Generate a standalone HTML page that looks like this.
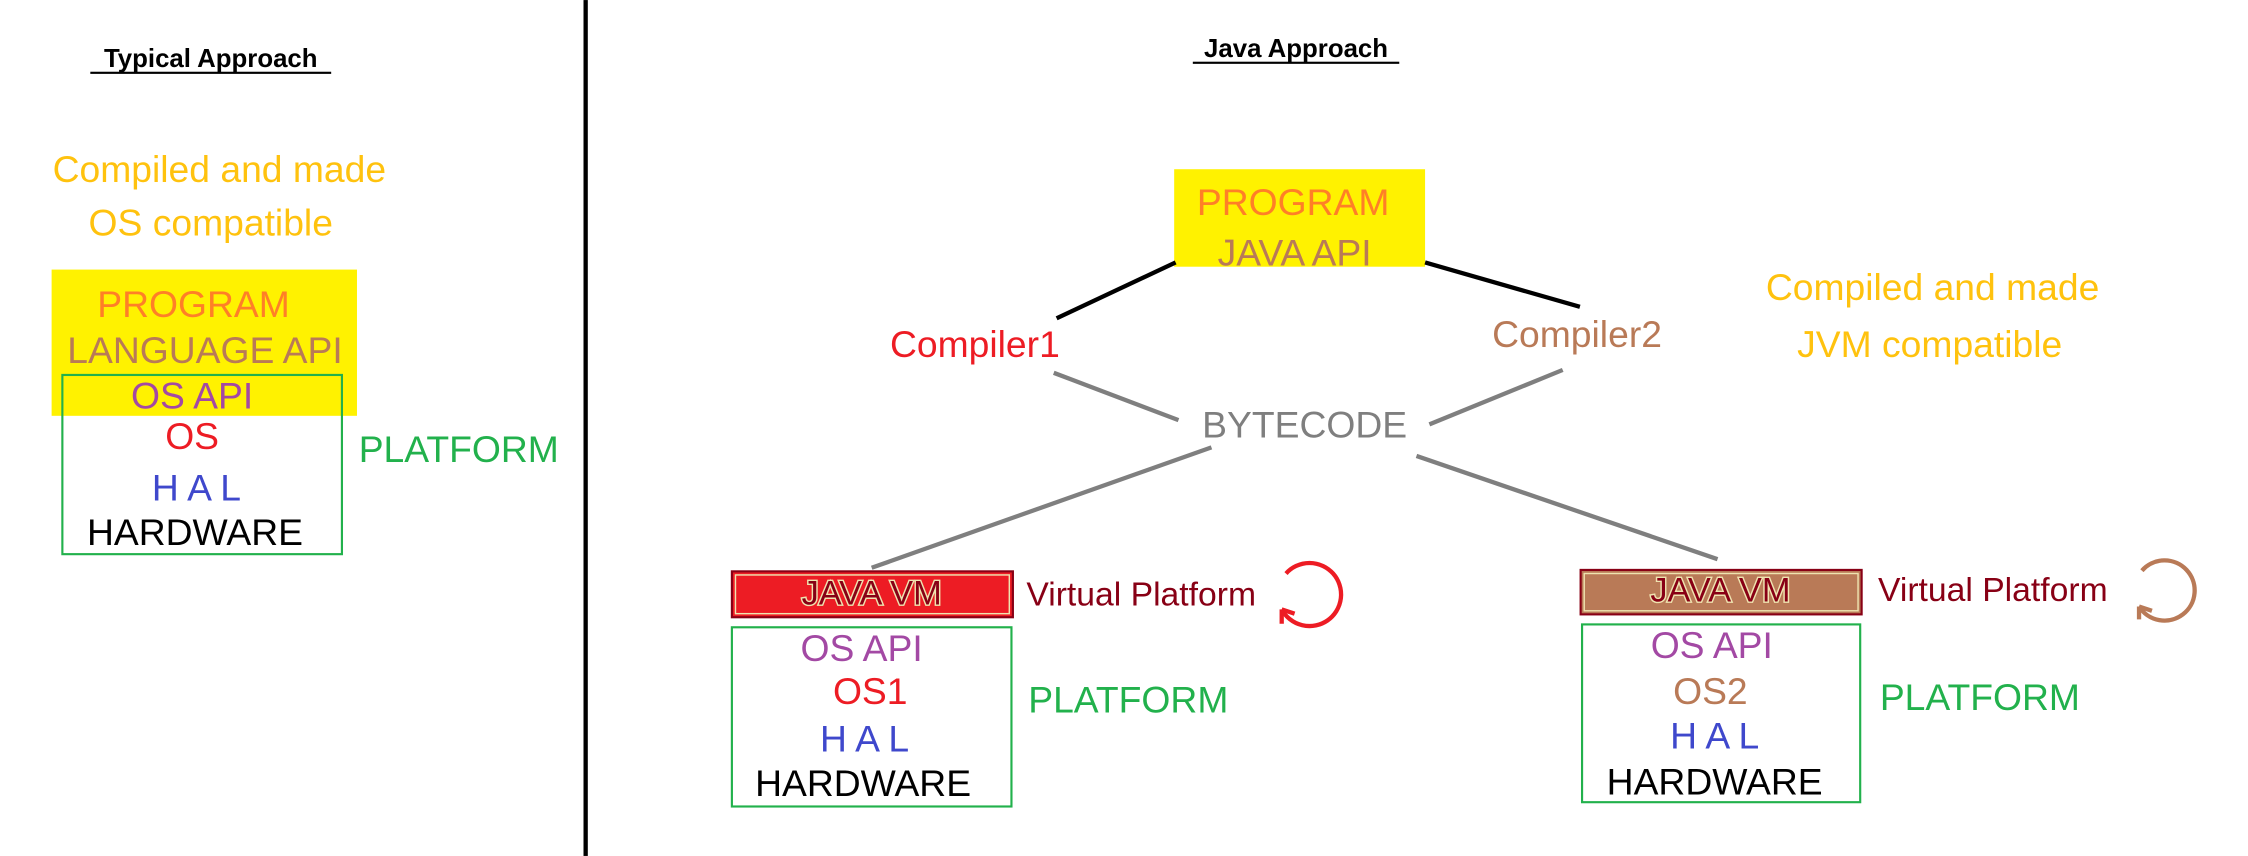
<!DOCTYPE html>
<html><head><meta charset="utf-8"><style>
html,body{margin:0;padding:0;background:#fff;}
svg{display:block;}
text{font-family:"Liberation Sans",sans-serif;dominant-baseline:central;}
.b{font-size:26px;}
</style></head><body>
<svg width="2248" height="856" viewBox="0 0 1568 597" xmlns="http://www.w3.org/2000/svg">
<rect x="0" y="0" width="1568" height="597" fill="#fff"/>
<rect x="407" y="0" width="3" height="597" fill="#000"/>
<!-- Left -->
<text x="147" y="41" font-size="18" font-weight="bold" text-anchor="middle" fill="#000">Typical Approach</text>
<rect x="63" y="50" width="168" height="1.5" fill="#000"/>
<text class="b" x="153" y="118" text-anchor="middle" fill="#FFC20E">Compiled and made</text>
<text class="b" x="147" y="155" text-anchor="middle" fill="#FFC20E">OS compatible</text>
<rect x="36" y="188" width="213" height="102" fill="#FFF200"/>
<rect x="43.5" y="261.5" width="195" height="125" fill="none" stroke="#22B14C" stroke-width="1.5"/>
<text class="b" x="135" y="212" text-anchor="middle" fill="#FF7F27">PROGRAM</text>
<text class="b" x="143" y="244" text-anchor="middle" fill="#B97A57">LANGUAGE API</text>
<text class="b" x="134" y="276" text-anchor="middle" fill="#A349A4">OS API</text>
<text class="b" x="134" y="304" text-anchor="middle" fill="#ED1C24">OS</text>
<text class="b" x="137" y="340" text-anchor="middle" fill="#3F48CC">H A L</text>
<text class="b" x="136" y="371" text-anchor="middle" fill="#000">HARDWARE</text>
<text class="b" x="320" y="313" text-anchor="middle" fill="#22B14C">PLATFORM</text>
<!-- Right -->
<text x="904" y="34" font-size="18" font-weight="bold" text-anchor="middle" fill="#000">Java Approach</text>
<rect x="832" y="43" width="144" height="1.5" fill="#000"/>
<rect x="819" y="118" width="175" height="68" fill="#FFF200"/>
<text class="b" x="902" y="141" text-anchor="middle" fill="#FF7F27">PROGRAM</text>
<text class="b" x="903" y="176" text-anchor="middle" fill="#B97A57">JAVA API</text>
<line x1="820" y1="183" x2="737" y2="222" stroke="#000" stroke-width="3"/>
<line x1="994" y1="183" x2="1102" y2="214" stroke="#000" stroke-width="3"/>
<text class="b" x="680" y="240" text-anchor="middle" fill="#ED1C24">Compiler1</text>
<text class="b" x="1100" y="233" text-anchor="middle" fill="#B97A57">Compiler2</text>
<text class="b" x="1348" y="200" text-anchor="middle" fill="#FFC20E">Compiled and made</text>
<text class="b" x="1346" y="240" text-anchor="middle" fill="#FFC20E">JVM compatible</text>
<g stroke="#7F7F7F" stroke-width="3">
<line x1="735" y1="260" x2="822" y2="293"/>
<line x1="1090" y1="258" x2="997" y2="296"/>
<line x1="845" y1="312" x2="608" y2="396"/>
<line x1="988" y1="318" x2="1198" y2="390"/>
</g>
<text class="b" x="910" y="296" text-anchor="middle" fill="#7F7F7F">BYTECODE</text>
<!-- VM left -->
<rect x="510.5" y="398.5" width="196" height="32" fill="#ED1C24" stroke="#880015" stroke-width="1.5"/>
<rect x="513" y="401" width="191" height="27" fill="none" stroke="#EFE4B0" stroke-width="1"/>
<text x="608" y="414" font-size="24" text-anchor="middle" fill="#880015" stroke="#EFE4B0" stroke-width="2" paint-order="stroke">JAVA VM</text>
<text x="796" y="415" font-size="23.5" text-anchor="middle" fill="#880015">Virtual Platform</text>
<path d="M897,400 A22,22 0 1,1 894,425" fill="none" stroke="#ED1C24" stroke-width="3"/>
<path d="M894,425 l0,10 M894,425 l9,3" stroke="#ED1C24" stroke-width="3" fill="none"/>
<rect x="510.5" y="437.5" width="195" height="125" fill="none" stroke="#22B14C" stroke-width="1.5"/>
<text class="b" x="601" y="452" text-anchor="middle" fill="#A349A4">OS API</text>
<text class="b" x="607" y="482" text-anchor="middle" fill="#ED1C24">OS1</text>
<text class="b" x="603" y="515" text-anchor="middle" fill="#3F48CC">H A L</text>
<text class="b" x="602" y="546" text-anchor="middle" fill="#000">HARDWARE</text>
<text class="b" x="787" y="488" text-anchor="middle" fill="#22B14C">PLATFORM</text>
<!-- VM right -->
<rect x="1102.5" y="397.5" width="196" height="31" fill="#B97A57" stroke="#880015" stroke-width="1.5"/>
<rect x="1105" y="400" width="191" height="26" fill="none" stroke="#EFE4B0" stroke-width="1"/>
<text x="1200" y="412" font-size="24" text-anchor="middle" fill="#880015" stroke="#EFE4B0" stroke-width="2" paint-order="stroke">JAVA VM</text>
<text x="1390" y="412" font-size="23.5" text-anchor="middle" fill="#880015">Virtual Platform</text>
<path d="M1494,398 A21,21 0 1,1 1492,423" fill="none" stroke="#B97A57" stroke-width="3"/>
<path d="M1492,423 l0,9 M1492,423 l9,3" stroke="#B97A57" stroke-width="3" fill="none"/>
<rect x="1103.5" y="435.5" width="194" height="124" fill="none" stroke="#22B14C" stroke-width="1.5"/>
<text class="b" x="1194" y="450" text-anchor="middle" fill="#A349A4">OS API</text>
<text class="b" x="1193" y="482" text-anchor="middle" fill="#B97A57">OS2</text>
<text class="b" x="1196" y="513" text-anchor="middle" fill="#3F48CC">H A L</text>
<text class="b" x="1196" y="545" text-anchor="middle" fill="#000">HARDWARE</text>
<text class="b" x="1381" y="486" text-anchor="middle" fill="#22B14C">PLATFORM</text>
</svg>
</body></html>
